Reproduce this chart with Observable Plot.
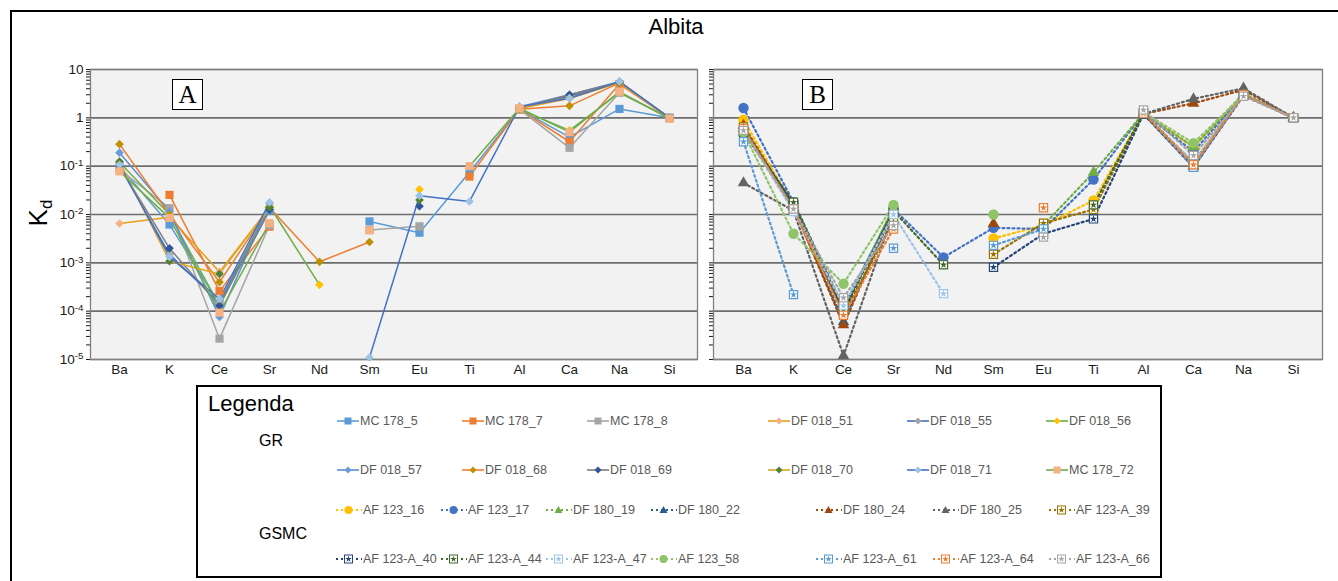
<!DOCTYPE html>
<html><head><meta charset="utf-8">
<script src="https://cdn.jsdelivr.net/npm/d3@7"></script>
<script src="https://cdn.jsdelivr.net/npm/@observablehq/plot@0.6"></script>
<style>
body{margin:0;background:#fff;font-family:"Liberation Sans",Arial,sans-serif;}
#root{position:relative;width:1338px;height:581px;overflow:hidden;background:#fff;}
.abs{position:absolute;}
.lab{position:absolute;display:flex;align-items:center;height:16px;font-size:12.5px;color:#595959;white-space:nowrap;}
.lab svg{display:block;margin-right:1px;}
</style></head><body><div id="root"></div>
<script>
// ---------- DATA ----------
const elements = ["Ba","K","Ce","Sr","Nd","Sm","Eu","Ti","Al","Ca","Na","Si"];
const yMajor = [1e-5,1e-4,1e-3,1e-2,1e-1,1,10];

// GR series (panel A)
const grNames = ["MC 178_5","MC 178_7","MC 178_8","DF 018_51","DF 018_55","DF 018_56","DF 018_57","DF 018_68","DF 018_69","DF 018_70","DF 018_71","MC 178_72"];
const grLineColors   = ["#5B9BD5","#ED7D31","#A5A5A5","#E6A118","#4472C4","#70AD47","#5B8FD5","#ED7D31","#7F7F7F","#E0A820","#4472C4","#70AD47"];
const grMarkerColors = ["#5B9BD5","#ED7D31","#A5A5A5","#F4B183","#A5A5A5","#FFC000","#6A9BDB","#BF9000","#2F5597","#548235","#9DC3E6","#F4B183"];
const grSymbols      = ["square","square","square","diamond2","diamond2","diamond2","diamond2","diamond2","diamond2","diamond2","diamond2","square"];
const MC178_5  = [0.10, 0.0062, 1.4e-4, 0.012, null, 0.0072, 0.0042, 0.075, 1.5, 0.40, 1.53, 1.0];
const MC178_7  = [null, 0.0255, 2.6e-4, 0.0056, null, null, null, 0.061, 1.5, 0.32, 5.0, 1.0];
const MC178_8  = [0.085, 0.0135, 2.7e-5, 0.006, null, 0.0048, 0.0057, null, 1.5, 0.24, 3.3, 1.0];
const DF018_51 = [0.0065, 0.0088, 6.5e-4, 0.014, null, null, null, null, 1.55, 2.5, 5.4, 1.0];
const DF018_55 = [0.10, 0.0015, 1.5e-4, 0.015, null, null, 0.0055, null, 1.6, 2.8, 5.5, 1.0];
const DF018_56 = [0.12, 0.010, 1.3e-4, 0.015, 3.5e-4, null, 0.033, null, 1.5, 0.55, 3.3, 1.0];
const DF018_57 = [0.19, 0.0115, 7.6e-5, 0.017, null, null, null, null, 1.7, 3.0, 5.6, 1.0];
const DF018_68 = [0.285, 0.010, 4.0e-4, 0.014, 1.05e-3, 0.0027, null, null, 1.5, 1.77, 5.3, 1.0];
const DF018_69 = [0.10, 0.0020, 1.3e-4, 0.0126, null, null, 0.0148, null, 1.6, 3.0, 5.5, 1.0];
const DF018_70 = [0.125, 0.00108, 5.9e-4, 0.014, null, null, 0.020, null, 1.6, 2.6, 5.4, 1.0];
const DF018_71 = [0.107, 0.00133, 1.8e-4, 0.0178, null, 1.1e-5, 0.0245, 0.0186, 1.7, 2.55, 5.6, 1.0];
const MC178_72 = [0.078, 0.0085, 9.3e-5, 0.0066, null, 0.0047, null, 0.10, 1.58, 0.505, 3.5, 0.95];
const grValues = [MC178_5, MC178_7, MC178_8, DF018_51, DF018_55, DF018_56, DF018_57, DF018_68, DF018_69, DF018_70, DF018_71, MC178_72];

// GSMC series (panel B)
const gsNames = ["AF 123_16","AF 123_17","DF 180_19","DF 180_22","DF 180_24","DF 180_25","AF 123-A_39","AF 123-A_40","AF 123-A_44","AF 123-A_47","AF 123_58","AF 123-A_61","AF 123-A_64","AF 123-A_66"];
const gsColors  = ["#FFC000","#4472C4","#70AD47","#255E91","#9E480E","#636363","#997300","#264478","#43682B","#9DC3E6","#8FC46A","#5B9BD5","#ED7D31","#A5A5A5"];
const gsSymbols = ["circle","circle","triangle","triangle","triangle","triangle","sqstar","sqstar","sqstar","sqstar","circle","sqstar","sqstar","sqstar"];
const AF123_16  = [0.91, 0.015, 1.0e-4, 0.013, null, 0.0032, 0.006, 0.0195, 1.25, 0.25, 3.0, 1.0];
const AF123_17  = [1.6, 0.018, 1.2e-4, 0.013, 1.3e-3, 0.0053, 0.005, 0.053, 1.25, 0.20, 3.0, 1.0];
const DF180_19  = [0.50, 0.016, 1.1e-4, 0.014, null, null, 0.006, 0.074, 1.25, 0.25, 3.2, 1.0];
const DF180_22  = [0.60, 0.014, 6.0e-5, 0.012, null, null, null, null, 1.2, 0.10, 3.0, 1.0];
const DF180_24  = [0.70, 0.014, 5.2e-5, 0.012, null, 0.0065, null, null, 1.2, 2.0, 3.8, 1.0];
const DF180_25  = [0.045, 0.012, 1.2e-5, 0.011, null, null, null, null, 1.2, 2.47, 4.1, 1.0];
const AF123A_39 = [0.65, 0.015, 9.0e-5, 0.007, null, 0.0015, 0.0066, 0.0127, 1.25, 0.12, 3.0, 1.0];
const AF123A_40 = [0.575, 0.016, 1.0e-4, 0.012, null, 8.1e-4, 0.004, 0.0081, 1.2, 0.095, 2.9, 1.0];
const AF123A_44 = [0.50, 0.018, 1.1e-4, 0.012, 9.1e-4, null, null, 0.0158, 1.25, 0.10, 3.0, 1.0];
const AF123A_47 = [0.55, 0.0115, 1.3e-4, 0.010, 2.3e-4, null, null, null, 1.25, 0.12, 3.0, 1.0];
const AF123_58  = [0.50, 0.004, 3.7e-4, 0.0158, null, 0.010, null, null, 1.3, 0.30, 3.0, 1.0];
const AF123A_61 = [0.32, 2.2e-4, null, 0.002, null, 0.0023, 0.005, null, 1.25, 0.095, 3.0, 1.0];
const AF123A_64 = [0.60, 0.013, 8.2e-5, 0.005, null, null, 0.0138, null, 1.25, 0.107, 3.0, 1.0];
const AF123A_66 = [0.55, 0.013, 1.9e-4, 0.0059, null, null, 0.0034, null, 1.45, 0.166, 2.8, 1.0];
const gsValues = [AF123_16, AF123_17, DF180_19, DF180_22, DF180_24, DF180_25, AF123A_39, AF123A_40, AF123A_44, AF123A_47, AF123_58, AF123A_61, AF123A_64, AF123A_66];

// ---------- LAYOUT ----------
const root = d3.select("#root");
const minorTicks = yMajor.slice(0, -1).flatMap(d => [2,3,4,5,6,7,8,9].map(k => k * d));
const allTicks = yMajor.concat(minorTicks);
const fmt = d => {
  const e = Math.log10(d), r = Math.round(e);
  if (Math.abs(e - r) > 1e-6) return "";
  return r >= 0 ? String(Math.round(10 ** r)) : "10^" + r;
};
const DASH = "2,3";

function symbolMarks(rows, sym, color) {
  if (sym === "sqstar") return [
    Plot.dot(rows, {x: "el", y: "v", symbol: "square", r: 4.6, fill: "white", stroke: color, strokeWidth: 1.2}),
    Plot.dot(rows, {x: "el", y: "v", symbol: "star", r: 2.4, fill: color})
  ];
  const r = sym === "square" ? 4.6 : sym === "circle" ? 5.2 : sym === "triangle" ? 4.3 : 3.9;
  return [Plot.dot(rows, {x: "el", y: "v", symbol: sym, r, fill: color})];
}

function panel(values, lineColors, markerColors, symbols, dotted, left, width, mLeft, mRight, labels) {
  const marks = [
    Plot.frame({fill: "#f2f2f2"}),
    Plot.ruleY(yMajor, {stroke: "#6e6e6e", strokeWidth: 1.6}),
    Plot.frame({stroke: "#7f7f7f", strokeWidth: 1.3})
  ];
  const rowsAll = values.map(vals => elements.map((el, j) => ({el, v: vals[j]})));
  rowsAll.forEach((rows, i) => {
    marks.push(Plot.line(rows, {x: "el", y: "v", stroke: lineColors[i],
      strokeWidth: dotted ? 2.2 : 1.5, strokeDasharray: dotted ? DASH : null}));
  });
  rowsAll.forEach((rows, i) => {
    symbolMarks(rows.filter(r => r.v != null), symbols[i], markerColors[i]).forEach(m => marks.push(m));
  });
  const svg = Plot.plot({
    width, height: 334, marginTop: 14, marginBottom: 30, marginLeft: mLeft, marginRight: mRight,
    style: {background: "transparent", fontFamily: '"Liberation Sans", Arial, sans-serif', fontSize: "13.5px", color: "#1a1a1a"},
    x: {type: "point", domain: elements, padding: 0.5, label: null, tickSize: 0, tickPadding: 5},
    y: {type: "log", domain: [1e-5, 10], label: null, ticks: allTicks, tickSize: 4, tickPadding: 3,
        tickFormat: labels ? fmt : () => ""},
    marks
  });
  d3.select(svg).selectAll("text").each(function() {
    const t = this.textContent;
    if (t.includes("^")) {
      const [b, e] = t.split("^");
      this.textContent = b;
      d3.select(this).append("tspan").attr("dy", "-0.45em").attr("font-size", "0.72em").text(e);
    }
  });
  root.append(() => svg).style("position", "absolute").style("left", left + "px").style("top", "55px");
}

// outer border
root.append("div").attr("class", "abs").style("left", "10px").style("top", "10px")
  .style("width", "1400px").style("height", "1000px").style("border-left", "2px solid #000").style("border-top", "2px solid #000");

// title
root.append("div").attr("class", "abs").style("left", "576px").style("width", "200px").style("top", "14px")
  .style("text-align", "center").style("font-size", "22px").text("Albita");

panel(grValues, grLineColors, grMarkerColors, grSymbols, false, 0, 700, 90, 3, true);
panel(gsValues, gsColors, gsColors, gsSymbols, true, 700, 638, 13, 16, false);

// y label
root.append("div").attr("class", "abs").style("left", "12px").style("top", "196px").style("width", "56px")
  .style("text-align", "center").style("transform", "rotate(-90deg)").style("font-size", "26px")
  .html('K<sub style="font-size:17px;vertical-align:-5px">d</sub>');

// panel letters
[["A", 172], ["B", 802]].forEach(([t, x]) => {
  root.append("div").attr("class", "abs").style("left", x + "px").style("top", "79px")
    .style("width", "31px").style("height", "31px").style("box-sizing", "border-box")
    .style("border", "1.5px solid #000").style("background", "#fff")
    .style("font-family", '"Liberation Serif", "Times New Roman", serif').style("font-size", "25px")
    .style("line-height", "29px").style("text-align", "center").text(t);
});

// legend
root.append("div").attr("class", "abs").style("left", "196px").style("top", "385px")
  .style("width", "966px").style("height", "193px").style("box-sizing", "border-box")
  .style("border", "2px solid #000").style("background", "#fff");
root.append("div").attr("class", "abs").style("left", "208px").style("top", "391px").style("font-size", "22px").text("Legenda");
root.append("div").attr("class", "abs").style("left", "259px").style("top", "432px").style("font-size", "16px").text("GR");
root.append("div").attr("class", "abs").style("left", "259px").style("top", "525px").style("font-size", "16px").text("GSMC");

function swatch(el, lineColor, markerColor, sym, dotted) {
  const w = dotted ? 27 : 22;
  const s = el.append("svg").attr("width", w).attr("height", 12);
  s.append("line").attr("x1", dotted ? 1 : 0).attr("x2", w).attr("y1", 6).attr("y2", 6)
    .attr("stroke", lineColor).attr("stroke-width", dotted ? 2.2 : 1.6)
    .attr("stroke-dasharray", dotted ? DASH : null);
  const cx = w / 2, cy = 6;
  if (sym === "square") s.append("rect").attr("x", cx - 3.5).attr("y", cy - 3.5).attr("width", 7).attr("height", 7).attr("fill", markerColor);
  else if (sym === "diamond2") s.append("path").attr("d", `M${cx},${cy-3.5}L${cx+3.5},${cy}L${cx},${cy+3.5}L${cx-3.5},${cy}Z`).attr("fill", markerColor);
  else if (sym === "circle") s.append("circle").attr("cx", cx).attr("cy", cy).attr("r", 4).attr("fill", markerColor);
  else if (sym === "triangle") s.append("path").attr("d", `M${cx},${cy-4}L${cx+4},${cy+3}L${cx-4},${cy+3}Z`).attr("fill", markerColor);
  else {
    s.append("rect").attr("x", cx - 4).attr("y", cy - 4).attr("width", 8).attr("height", 8).attr("fill", "#fff").attr("stroke", markerColor).attr("stroke-width", 1);
    s.append("path").attr("d", d3.symbol(d3.symbolStar, 14)()).attr("transform", `translate(${cx},${cy})`).attr("fill", markerColor);
  }
}

const grCols = [337, 462, 587, 768, 907, 1046];
const grRows = [421, 470];
grNames.forEach((n, i) => {
  const e = root.append("div").attr("class", "lab")
    .style("left", grCols[i % 6] + "px").style("top", (grRows[Math.floor(i / 6)] - 8) + "px");
  swatch(e, grLineColors[i], grMarkerColors[i], grSymbols[i], false);
  e.append("span").text(n);
});
const gsCols = [335, 440, 545, 650, 815, 932, 1048];
const gsRows = [510, 559];
gsNames.forEach((n, i) => {
  const e = root.append("div").attr("class", "lab")
    .style("left", gsCols[i % 7] + "px").style("top", (gsRows[Math.floor(i / 7)] - 8) + "px");
  swatch(e, gsColors[i], gsColors[i], gsSymbols[i], true);
  e.append("span").text(n);
});
</script></body></html>
